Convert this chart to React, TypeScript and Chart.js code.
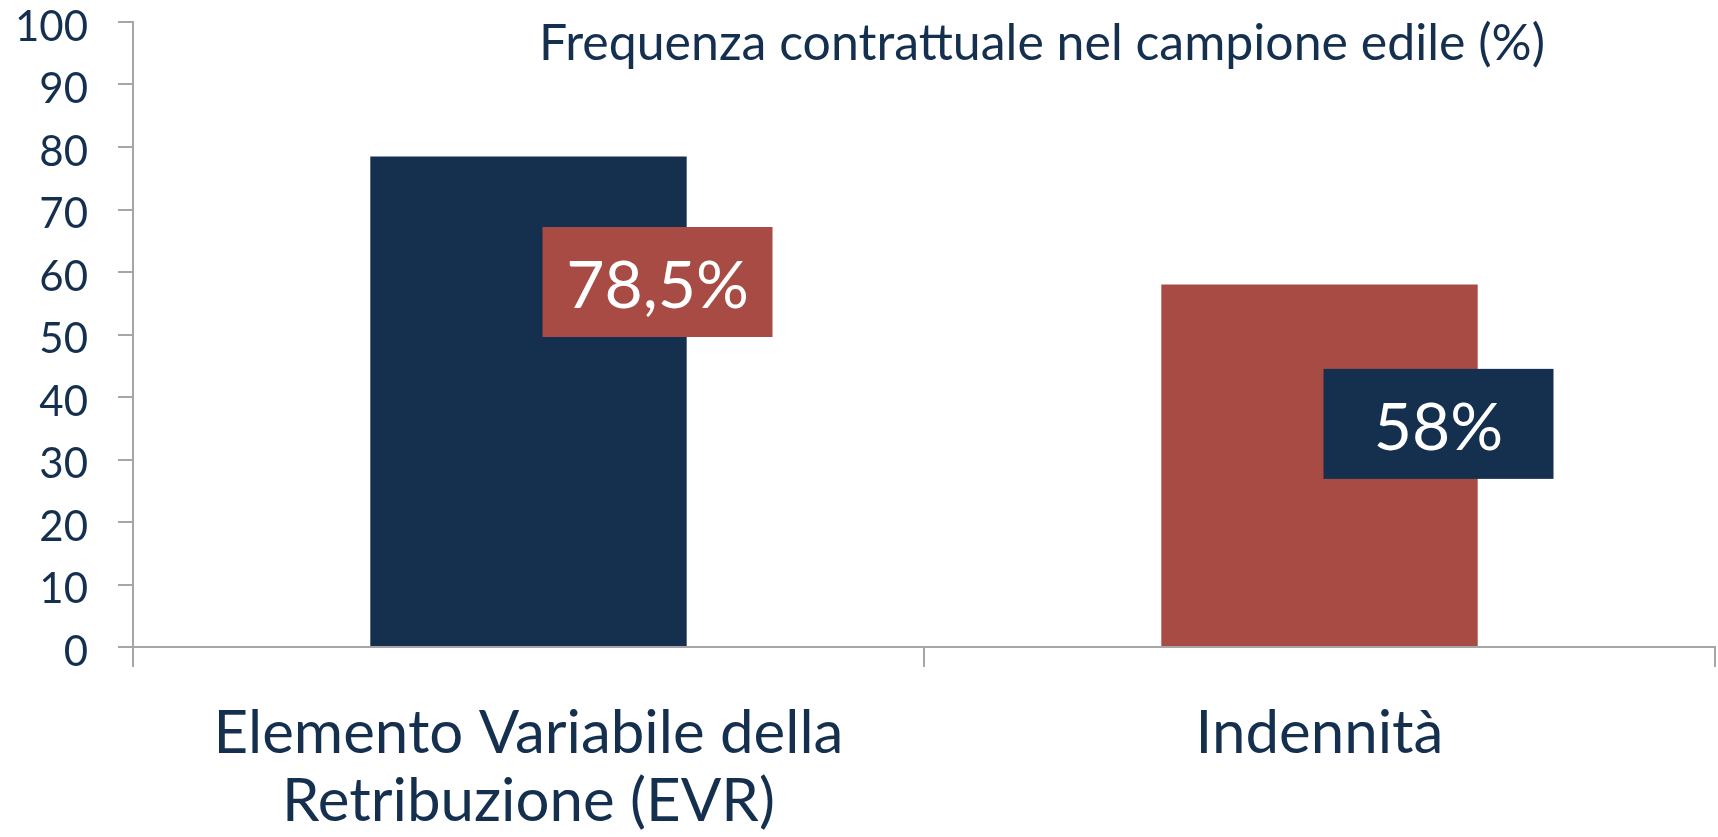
import React, { useEffect, useRef } from "react";
import { Chart, registerables } from "chart.js";

Chart.register(...registerables);

const categories: string[][] = [["Elemento Variabile della", "Retribuzione (EVR)"], ["Indennità"]];
const values: number[] = [78.5, 58];
const valueLabels: string[] = ["78,5%", "58%"];
const barColors: string[] = ["#15304F", "#A84B45"];
const labelBoxColors: string[] = ["#A84B45", "#15304F"];
const chartTitle = "Frequenza contrattuale nel campione edile (%)";
const yMin = 0;
const yMax = 100;
const yStep = 10;

const NAVY = "#15304F";
const AXIS_GREY = "#A6A6A6";
const FONT = "Lato, 'Noto Sans', sans-serif";

// label box placement (pixel offset from bar centre, value of box centre)
const boxOffsetX = [129, 119];
const boxCenterValue = [58.4, 35.7];
const BOX_W = 230;
const BOX_H = 110;

const overlayPlugin = {
  id: "overlay",
  afterDatasetsDraw(chart: any) {
    const ctx = chart.ctx;
    const meta = chart.getDatasetMeta(0);
    const yScale = chart.scales.y;
    ctx.save();
    meta.data.forEach((bar: any, i: number) => {
      const cx = bar.x + boxOffsetX[i];
      const cy = yScale.getPixelForValue(boxCenterValue[i]);
      ctx.fillStyle = labelBoxColors[i];
      ctx.fillRect(cx - BOX_W / 2, cy - BOX_H / 2, BOX_W, BOX_H);
      ctx.fillStyle = "#FFFFFF";
      ctx.font = `66px ${FONT}`;
      ctx.textAlign = "center";
      ctx.textBaseline = "middle";
      ctx.fillText(valueLabels[i], cx, cy + 5);
    });
    // title
    ctx.fillStyle = NAVY;
    ctx.font = `50px ${FONT}`;
    ctx.textAlign = "center";
    ctx.textBaseline = "middle";
    ctx.fillText(chartTitle, 1042, 44);
    ctx.restore();
  },
};

export default function App() {
  const ref = useRef<HTMLCanvasElement | null>(null);

  useEffect(() => {
    document.body.style.margin = "0";
    const canvas = ref.current;
    if (!canvas) return;
    const chart = new Chart(canvas, {
      type: "bar",
      data: {
        labels: categories,
        datasets: [
          {
            data: values,
            backgroundColor: barColors,
            borderWidth: 0,
            barPercentage: 0.4,
            categoryPercentage: 1,
          },
        ],
      },
      options: {
        responsive: false,
        animation: false,
        devicePixelRatio: 1,
        layout: { padding: { top: 22, right: 3, left: 0, bottom: 0 } },
        plugins: {
          legend: { display: false },
          tooltip: { enabled: false },
          title: { display: false },
        },
        scales: {
          x: {
            grid: {
              display: true,
              drawOnChartArea: false,
              drawTicks: true,
              tickLength: 20,
              color: AXIS_GREY,
              lineWidth: 2,
              offset: true,
            },
            border: { display: true, color: AXIS_GREY, width: 2 },
            ticks: {
              color: NAVY,
              font: { family: FONT, size: 60, lineHeight: 1.13 },
              padding: 33,
              maxRotation: 0,
              autoSkip: false,
            },
            afterFit: (scale: any) => {
              scale.height = 190;
              scale.paddingLeft = 0;
              scale.paddingRight = 0;
            },
          },
          y: {
            min: yMin,
            max: yMax,
            ticks: {
              stepSize: yStep,
              color: NAVY,
              font: { family: FONT, size: 42 },
              padding: 30,
              labelOffset: 5,
            },
            grid: {
              display: true,
              drawOnChartArea: false,
              drawTicks: true,
              tickLength: 15,
              color: AXIS_GREY,
              lineWidth: 2,
            },
            border: { display: true, color: AXIS_GREY, width: 2 },
            afterFit: (scale: any) => {
              scale.width = 133;
              scale.paddingTop = 0;
              scale.paddingBottom = 0;
            },
          },
        },
      },
      plugins: [overlayPlugin],
    });
    return () => chart.destroy();
  }, []);

  return (
    <canvas
      ref={ref}
      width={1718}
      height={837}
      style={{ display: "block", width: 1718, height: 837 }}
    />
  );
}
